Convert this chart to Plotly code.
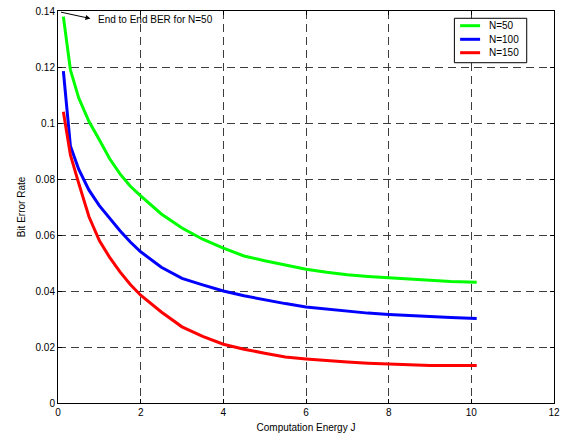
import plotly.graph_objects as go

energy = [0.13, 0.3, 0.5, 0.75, 1.0, 1.25, 1.5, 1.75, 2.0, 2.5, 3.0, 3.5, 4.0, 4.5,
          5.0, 5.5, 6.0, 6.5, 7.0, 7.5, 8.0, 8.5, 9.0, 9.5, 10.13]
ber_n50 = [0.138, 0.119, 0.109, 0.1005, 0.094, 0.0872, 0.0818, 0.0774, 0.0740, 0.0675,
           0.0625, 0.0585, 0.0553, 0.0525, 0.0508, 0.0493, 0.0478, 0.0467, 0.0458,
           0.0452, 0.0447, 0.0442, 0.0438, 0.0434, 0.0431]
ber_n100 = [0.1185, 0.0918, 0.0835, 0.076, 0.0705, 0.066, 0.0615, 0.0575, 0.0540, 0.0485,
            0.0445, 0.0422, 0.0400, 0.0383, 0.0368, 0.0355, 0.0343, 0.0335, 0.0328,
            0.0321, 0.0316, 0.0312, 0.0309, 0.0305, 0.0302]
ber_n150 = [0.104, 0.0886, 0.0785, 0.0665, 0.058, 0.052, 0.0468, 0.0423, 0.0385, 0.0325,
            0.0272, 0.0238, 0.0210, 0.0192, 0.0178, 0.0164, 0.0157, 0.0151, 0.0146,
            0.0142, 0.0139, 0.0137, 0.0134, 0.0134, 0.0134]
series_names = ["N=50", "N=100", "N=150"]
series_colors = ["#00ff00", "#0000ff", "#ff0000"]

x_ticks = [0, 2, 4, 6, 8, 10, 12]
y_ticks = [0, 0.02, 0.04, 0.06, 0.08, 0.1, 0.12, 0.14]

FONT = "Liberation Sans, Arial, sans-serif"

fig = go.Figure()
for name, color, ys in zip(series_names, series_colors, [ber_n50, ber_n100, ber_n150]):
    fig.add_trace(go.Scatter(x=energy, y=ys, mode="lines", name=name,
                             line=dict(color=color, width=3), showlegend=False))

axis_common = dict(
    showline=True, linecolor="black", linewidth=1, mirror="ticks",
    ticks="inside", ticklen=4, tickcolor="black", tickwidth=1,
    showgrid=True, gridcolor="#3c3c3c", gridwidth=1, griddash="8px,5px",
    zeroline=False, tickfont=dict(family=FONT, size=10, color="black"),
    ticklabeloverflow="allow",
)

fig.update_xaxes(range=[0, 12], tickmode="array", tickvals=x_ticks,
                 title=dict(text="Computation Energy J", standoff=6,
                            font=dict(family=FONT, size=10, color="black")),
                 automargin=False, **axis_common)
fig.update_yaxes(range=[0, 0.14], tickmode="array", tickvals=y_ticks,
                 title=dict(text="Bit Error Rate", standoff=8,
                            font=dict(family=FONT, size=10, color="black")),
                 automargin=False, **axis_common)

# text arrow
fig.add_annotation(x=0.785, y=0.1373, ax=0.036, ay=0.1397, xref="x", yref="y",
                   axref="x", ayref="y", text="", showarrow=True, arrowhead=2,
                   arrowsize=1, arrowwidth=1, arrowcolor="black")
fig.add_annotation(x=0.93, y=0.1371, xref="x", yref="y", text="End to End BER for N=50",
                   showarrow=False, xanchor="left", yanchor="middle",
                   font=dict(family=FONT, size=10, color="black"))

# legend box (drawn as in the original figure)
fig.add_shape(type="rect", xref="paper", yref="paper", x0=0.7992, x1=0.9450,
              y0=0.8681, y1=0.9814, line=dict(color="black", width=1),
              fillcolor="white", layer="above")
legend_rows = [0.9625, 0.9278, 0.8936]
for name, color, yr in zip(series_names, series_colors, legend_rows):
    fig.add_shape(type="line", xref="paper", yref="paper", x0=0.8107, x1=0.8510,
                  y0=yr, y1=yr, line=dict(color=color, width=3), layer="above")
    fig.add_annotation(x=0.8644, y=yr, xref="paper", yref="paper", text=name,
                       showarrow=False, xanchor="left", yanchor="middle",
                       font=dict(family=FONT, size=10, color="black"))

fig.update_layout(
    width=566, height=438,
    margin=dict(l=57.5, r=12, t=11, b=35, pad=0),
    paper_bgcolor="white", plot_bgcolor="white",
    showlegend=False,
)

fig.write_html("out.html", config={"displayModeBar": False},
               post_script="document.body.style.margin='0';")
